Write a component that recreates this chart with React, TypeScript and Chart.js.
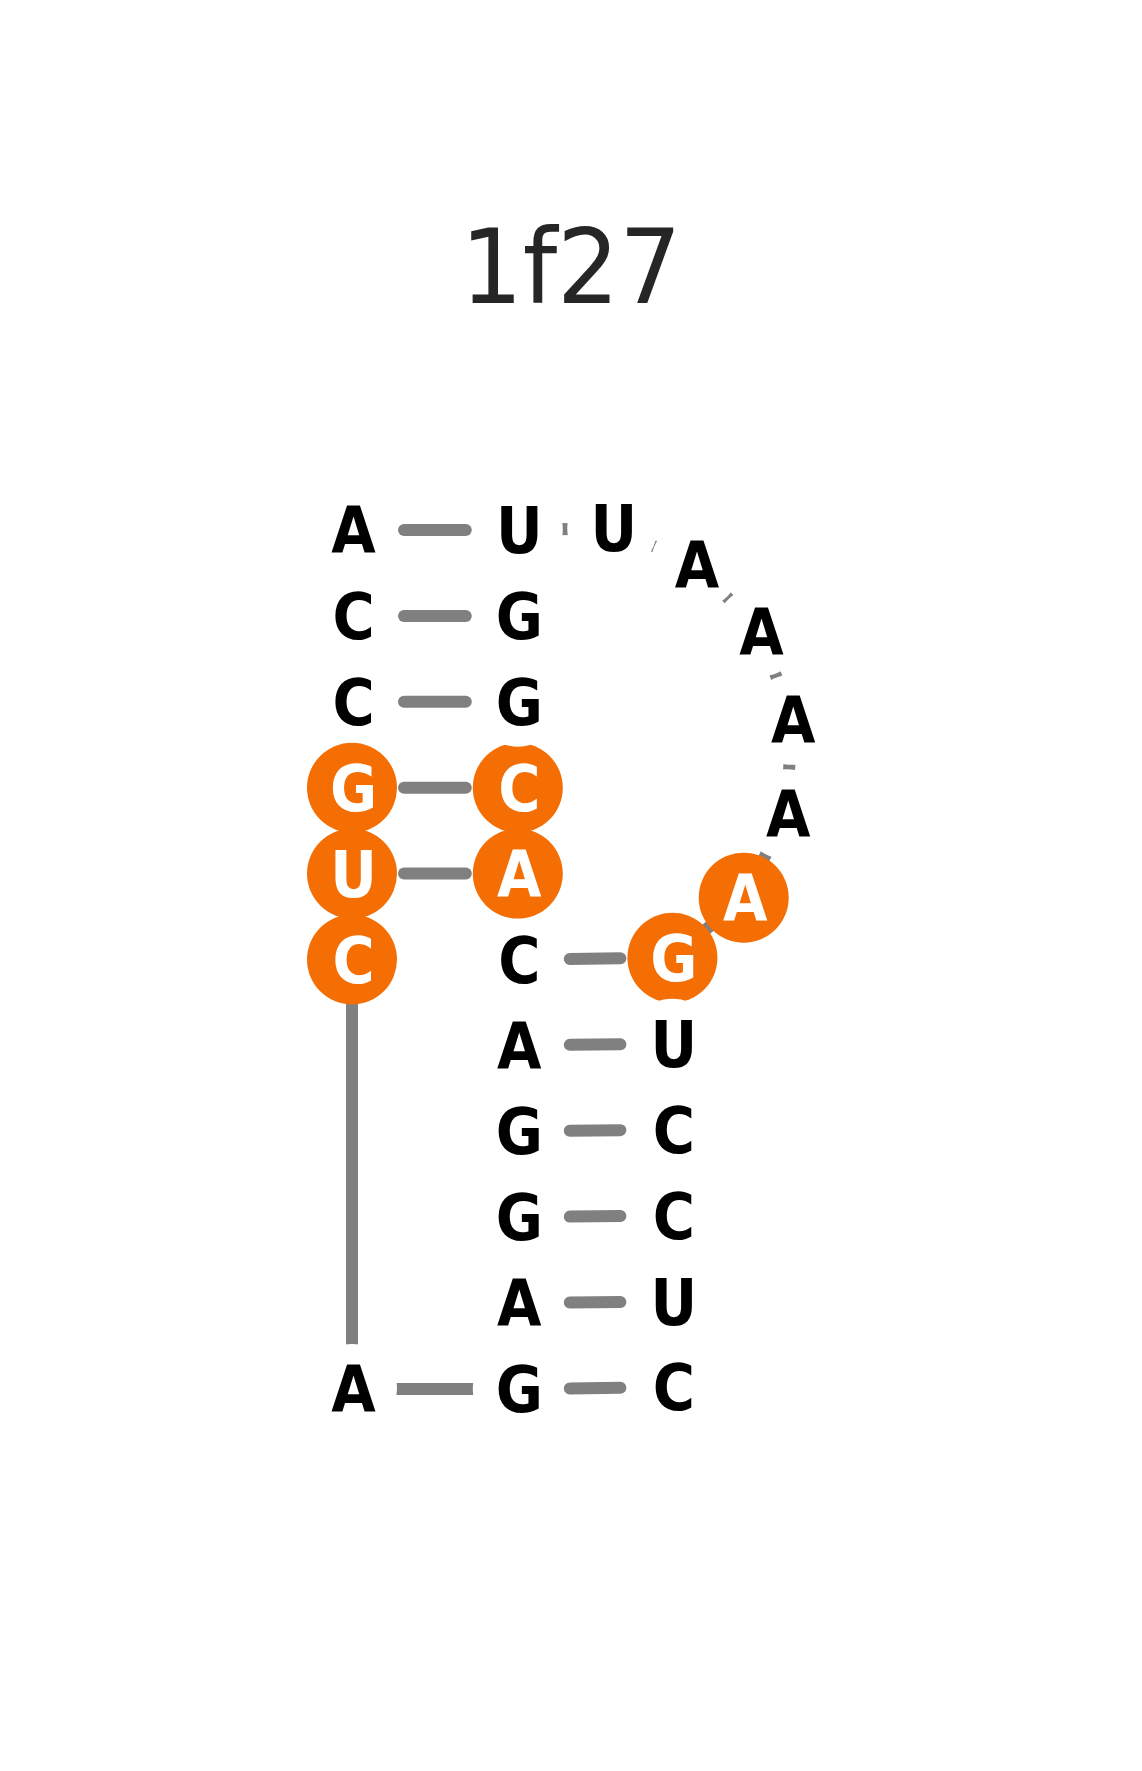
import { useEffect, useRef } from "react";
import { Chart, registerables } from "chart.js";

Chart.register(...registerables);

const TITLE = "1f27";

// nucleotides in chain order (5' -> 3')
const BASES = [
	"A", "C", "C", "G", "U", "C",
	"A",
	"G", "A", "G", "G", "A", "C", "A", "C", "G", "G", "U",
	"U", "A", "A", "A", "A", "A",
	"G", "U", "C", "C", "U", "C",
];

// layout coordinates, one unit = one stacked base step, y grows downward
const BASE_X = [
	0, 0, 0, 0, 0, 0,
	0,
	1.93, 1.93, 1.93, 1.93, 1.93, 1.93, 1.93, 1.93, 1.93, 1.93, 1.93,
	3.03, 4.0, 4.75, 5.12, 5.06, 4.56,
	3.73, 3.73, 3.73, 3.73, 3.73, 3.73,
];
const BASE_Y = [
	0, 1, 2, 3, 4, 5,
	10,
	10, 9, 8, 7, 6, 5, 4, 3, 2, 1, 0,
	-0.02, 0.4, 1.18, 2.21, 3.31, 4.28,
	4.98, 5.98, 6.98, 7.98, 8.98, 9.98,
];

// highlighted nucleotides (indices into BASES)
const HIGHLIGHT = [3, 4, 5, 13, 14, 23, 24];

// base pairs (indices into BASES)
const PAIRS: [number, number][] = [
	[0, 17], [1, 16], [2, 15], [3, 14], [4, 13],
	[12, 24], [11, 25], [10, 26], [9, 27], [8, 28], [7, 29],
];

const UNIT_PX = 85.9;
const ORIGIN_PX = { x: 352, y: 530 };
const NODE_R = 45;
const BOND_GAP = 52;
const GREY = "#808080";
const ORANGE = "#F46E03";
const LETTER_SIZE = 63.5;
const LETTER_SQUEEZE = 0.905;

const letterPlugin = {
	id: "rnaLetters",
	afterDatasetsDraw(chart: Chart) {
		const { ctx } = chart;
		const xs = chart.scales.x;
		const ys = chart.scales.y;
		ctx.save();
		ctx.textAlign = "center";
		ctx.textBaseline = "alphabetic";
		ctx.font = `bold ${LETTER_SIZE}px 'DejaVu Sans', sans-serif`;
		const capHalf = (LETTER_SIZE * 0.729) / 2;
		BASES.forEach((b, i) => {
			ctx.save();
			ctx.translate(
				xs.getPixelForValue(BASE_X[i]) + 1.5,
				ys.getPixelForValue(BASE_Y[i]) + capHalf,
			);
			ctx.scale(LETTER_SQUEEZE, 1);
			ctx.fillStyle = HIGHLIGHT.includes(i) ? "#ffffff" : "#000000";
			ctx.fillText(b, 0, 0);
			ctx.restore();
		});
		// title
		ctx.translate(chart.width / 2, 303);
		ctx.scale(0.95, 1);
		ctx.font = "103px 'DejaVu Sans', sans-serif";
		ctx.fillStyle = "#262626";
		ctx.fillText(TITLE, 0, 0);
		ctx.restore();
	},
};

export default function App() {
	const chartRef = useRef<HTMLCanvasElement | null>(null);
	const chartInstance = useRef<Chart | null>(null);

	useEffect(() => {
		document.body.style.margin = "0";
		if (!chartRef.current) return;
		const ctx = chartRef.current.getContext("2d");
		if (!ctx) return;

		const nodes = BASES.map((_, i) => ({ x: BASE_X[i], y: BASE_Y[i] }));
		const shrink = BOND_GAP / UNIT_PX;

		// pair bonds stop short of both discs, round ends
		const bondSets = PAIRS.map(([a, b]) => {
			const dx = BASE_X[b] - BASE_X[a];
			const dy = BASE_Y[b] - BASE_Y[a];
			const t = shrink / Math.hypot(dx, dy);
			return {
				data: [
					{ x: BASE_X[a] + dx * t, y: BASE_Y[a] + dy * t },
					{ x: BASE_X[b] - dx * t, y: BASE_Y[b] - dy * t },
				],
				showLine: true,
				borderColor: GREY,
				borderWidth: 12,
				borderCapStyle: "round" as const,
				pointRadius: 0,
				order: 1,
			};
		});

		const w = chartRef.current.parentElement?.clientWidth ?? 1142;
		const h = chartRef.current.parentElement?.clientHeight ?? 1771;

		chartInstance.current?.destroy();
		chartInstance.current = new Chart(ctx, {
			type: "scatter",
			data: {
				datasets: [
					...bondSets,
					{
						data: nodes,
						showLine: false,
						pointRadius: NODE_R,
						pointHoverRadius: NODE_R,
						pointBorderWidth: 0,
						pointBackgroundColor: BASES.map((_, i) =>
							HIGHLIGHT.includes(i) ? ORANGE : "#ffffff",
						),
						order: 2,
					},
					{
						// backbone, mostly hidden under the discs
						data: nodes,
						showLine: true,
						borderColor: GREY,
						borderWidth: 12,
						borderCapStyle: "butt",
						pointRadius: 0,
						tension: 0,
						order: 3,
					},
				],
			},
			options: {
				animation: false,
				responsive: true,
				maintainAspectRatio: false,
				events: [],
				layout: { padding: 0, autoPadding: false },
				plugins: {
					legend: { display: false },
					title: { display: false },
					tooltip: { enabled: false },
				},
				scales: {
					x: {
						type: "linear",
						display: false,
						min: -ORIGIN_PX.x / UNIT_PX,
						max: (w - ORIGIN_PX.x) / UNIT_PX,
					},
					y: {
						type: "linear",
						display: false,
						reverse: true,
						min: -ORIGIN_PX.y / UNIT_PX,
						max: (h - ORIGIN_PX.y) / UNIT_PX,
					},
				},
			},
			plugins: [letterPlugin],
		});

		return () => {
			chartInstance.current?.destroy();
			chartInstance.current = null;
		};
	}, []);

	return (
		<div
			style={{
				position: "fixed",
				left: 0,
				top: 0,
				width: "100vw",
				height: "100vh",
				background: "#ffffff",
			}}
		>
			<canvas ref={chartRef} />
		</div>
	);
}
